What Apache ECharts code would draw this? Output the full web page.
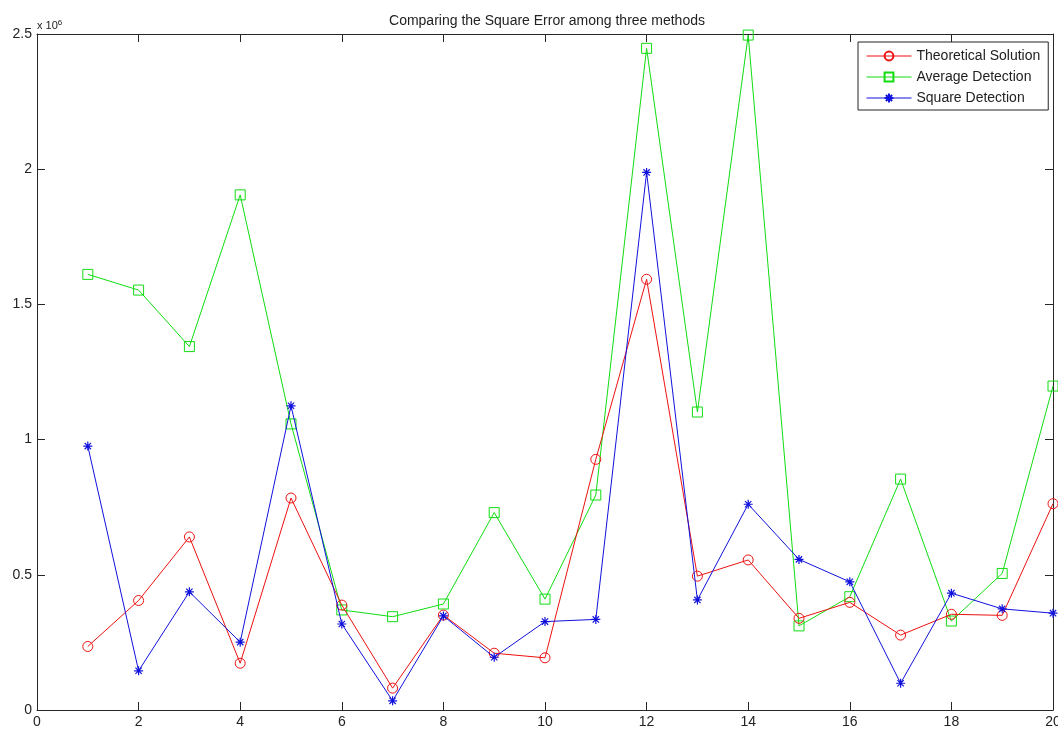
<!DOCTYPE html>
<html>
<head>
<meta charset="utf-8">
<script src="https://cdn.jsdelivr.net/npm/echarts@6/dist/echarts.min.js"></script>
<style>html,body{margin:0;padding:0;background:#fff;}#c{width:1058px;height:729px;}</style>
</head>
<body>
<div id="c"></div>
<script>
const xValues = [1,2,3,4,5,6,7,8,9,10,11,12,13,14,15,16,17,18,19,20];
const theoretical = [0.235e6,0.405e6,0.64e6,0.173e6,0.784e6,0.388e6,0.081e6,0.351e6,0.21e6,0.193e6,0.927e6,1.593e6,0.495e6,0.555e6,0.339e6,0.398e6,0.277e6,0.354e6,0.350e6,0.763e6];
const average = [1.611e6,1.553e6,1.344e6,1.905e6,1.058e6,0.370e6,0.345e6,0.392e6,0.730e6,0.410e6,0.795e6,2.447e6,1.102e6,2.496e6,0.311e6,0.419e6,0.854e6,0.329e6,0.505e6,1.198e6];
const square = [0.976e6,0.145e6,0.437e6,0.251e6,1.125e6,0.318e6,0.034e6,0.348e6,0.195e6,0.327e6,0.335e6,1.988e6,0.407e6,0.761e6,0.557e6,0.474e6,0.099e6,0.432e6,0.374e6,0.358e6];
const seriesNames = ['Theoretical Solution','Average Detection','Square Detection'];
const titleText = 'Comparing the Square Error among three methods';

const pair = arr => xValues.map((x,i)=>[x,arr[i]]);
const font = 'Liberation Sans, Arial, sans-serif';
const axisCol = '#262626';
const star = 'path://M0,5L10,5M5,0L5,10M1.5,1.5L8.5,8.5M8.5,1.5L1.5,8.5';

const chart = echarts.init(document.getElementById('c'), null, {renderer:'canvas'});
const baseX = {type:'value',min:0,max:20,interval:2,
  axisLine:{show:true,onZero:false,lineStyle:{color:axisCol,width:1}},
  axisTick:{show:true,inside:true,length:8,lineStyle:{color:axisCol}},
  splitLine:{show:false}};
const baseY = {type:'value',min:0,max:2500000,interval:500000,
  axisLine:{show:true,onZero:false,lineStyle:{color:axisCol,width:1}},
  axisTick:{show:true,inside:true,length:8,lineStyle:{color:axisCol}},
  splitLine:{show:false}};
chart.setOption({
  animation:false,
  backgroundColor:'#ffffff',
  title:{text:titleText,left:542,textAlign:'center',top:9,
    textStyle:{fontFamily:font,fontSize:14,fontWeight:'normal',color:'#222'}},
  grid:{left:37,right:5,top:34,bottom:19,containLabel:false,outerBoundsMode:'none'},
  xAxis:[
    Object.assign({},baseX,{position:'bottom',axisLabel:{show:true,color:'#222',fontFamily:font,fontSize:14,margin:5}}),
    Object.assign({},baseX,{position:'top',axisLabel:{show:false}})
  ],
  yAxis:[
    Object.assign({},baseY,{position:'left',axisLabel:{show:true,color:'#222',fontFamily:font,fontSize:14,margin:5,
      formatter:v=>String(v/1e6)}}),
    Object.assign({},baseY,{position:'right',axisLabel:{show:false}})
  ],
  legend:{orient:'vertical',left:858,top:42,
    backgroundColor:'#fff',borderColor:'#222',borderWidth:1,padding:[7,8,5,8],
    itemWidth:45,itemHeight:11,itemGap:7,
    lineStyle:{width:1},
    textStyle:{fontFamily:font,fontSize:14,color:'#222'},
    data:seriesNames},
  graphic:[{type:'text',left:37,top:19,style:{
    text:'x 10{s|6}',fontFamily:font,fontSize:11,fill:'#222',
    rich:{s:{fontSize:8,verticalAlign:'top',padding:[0,0,6,0],fontFamily:font}}}}],
  series:[
    {name:seriesNames[0],type:'line',data:pair(theoretical),symbol:'circle',symbolSize:10,
      lineStyle:{color:'#ee1111',width:1},itemStyle:{color:'rgba(0,0,0,0)',borderColor:'#ee1111',borderWidth:1},z:3},
    {name:seriesNames[1],type:'line',data:pair(average),symbol:'rect',symbolSize:10,
      lineStyle:{color:'#11dd11',width:1},itemStyle:{color:'rgba(0,0,0,0)',borderColor:'#11dd11',borderWidth:1},z:2},
    {name:seriesNames[2],type:'line',data:pair(square),symbol:star,symbolSize:9,
      lineStyle:{color:'#1111dd',width:1},itemStyle:{color:'rgba(0,0,0,0)',borderColor:'#1111dd',borderWidth:1.2},z:4}
  ]
});
</script>
</body>
</html>
